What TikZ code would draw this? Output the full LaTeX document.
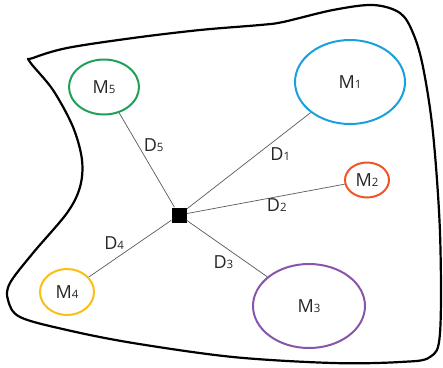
\documentclass[tikz,border=0pt]{standalone}
\usepackage{fontspec}
\setmainfont{Open Sans}
\usetikzlibrary{shapes.geometric}
\definecolor{mblue}{RGB}{27,160,222}
\definecolor{mred}{RGB}{240,85,40}
\definecolor{mpurple}{RGB}{135,85,170}
\definecolor{myellow}{RGB}{250,190,20}
\definecolor{mgreen}{RGB}{30,160,90}
\newcommand{\mnum}[1]{{\fontsize{11.5}{11.5}\selectfont #1}}

\begin{document}
\begin{tikzpicture}[x=1pt,y=-1pt,semithick]
  \tikzstyle{every node}=[font=\fontsize{18}{18}\selectfont,text=black!85]
  \tikzstyle{mass}=[ellipse,draw,line width=2pt,inner sep=0pt]
  \tikzstyle{spoke}=[draw=black!65,line width=0.7pt]
  \tikzstyle{lbl}=[inner sep=1.5pt]

  \useasboundingbox (0,0) rectangle (443,367);

  \draw[line width=2.2pt] plot[smooth cycle,tension=0.55] coordinates {
    (30,62) (53,90) (73,127) (82,160) (80,187) (67,213) (33,253) (10,283)
    (8,300) (20,317) (67,330) (133,343) (233,357) (333,363) (400,362)
    (430,357) (440,333) (440,233) (433,133) (423,67) (413,33) (400,13)
    (373,5) (333,10) (283,22) (260,25) (200,30) (133,38) (67,48) (33,58)};

  \node[mass,draw=mblue,minimum width=110pt,minimum height=84pt] (M1) at (350,82) {M\mnum{1}};
  \node[mass,draw=mred,minimum width=44pt,minimum height=35pt] (M2) at (367,180) {M\mnum{2}};
  \node[mass,draw=mpurple,minimum width=112pt,minimum height=84pt] (M3) at (309,306) {M\mnum{3}};
  \node[mass,draw=myellow,minimum width=54pt,minimum height=46pt] (M4) at (67,292) {M\mnum{4}};
  \node[mass,draw=mgreen,minimum width=70pt,minimum height=55pt] (M5) at (104,87) {M\mnum{5}};

  \node[fill=black,minimum size=15pt,inner sep=0pt] (S) at (179,215) {};

  \path[spoke] (S) -- node[lbl,pos=0.66,below right] {D\mnum{1}} (M1);
  \path[spoke] (S) -- node[lbl,pos=0.57,below] {D\mnum{2}} (M2);
  \path[spoke] (S) -- node[lbl,pos=0.6,below left] {D\mnum{3}} (M3);
  \path[spoke] (S) -- node[lbl,pos=0.55,above left] {D\mnum{4}} (M4);
  \path[spoke] (S) -- node[lbl,pos=0.66,right=4pt] {D\mnum{5}} (M5);
\end{tikzpicture}
\end{document}
